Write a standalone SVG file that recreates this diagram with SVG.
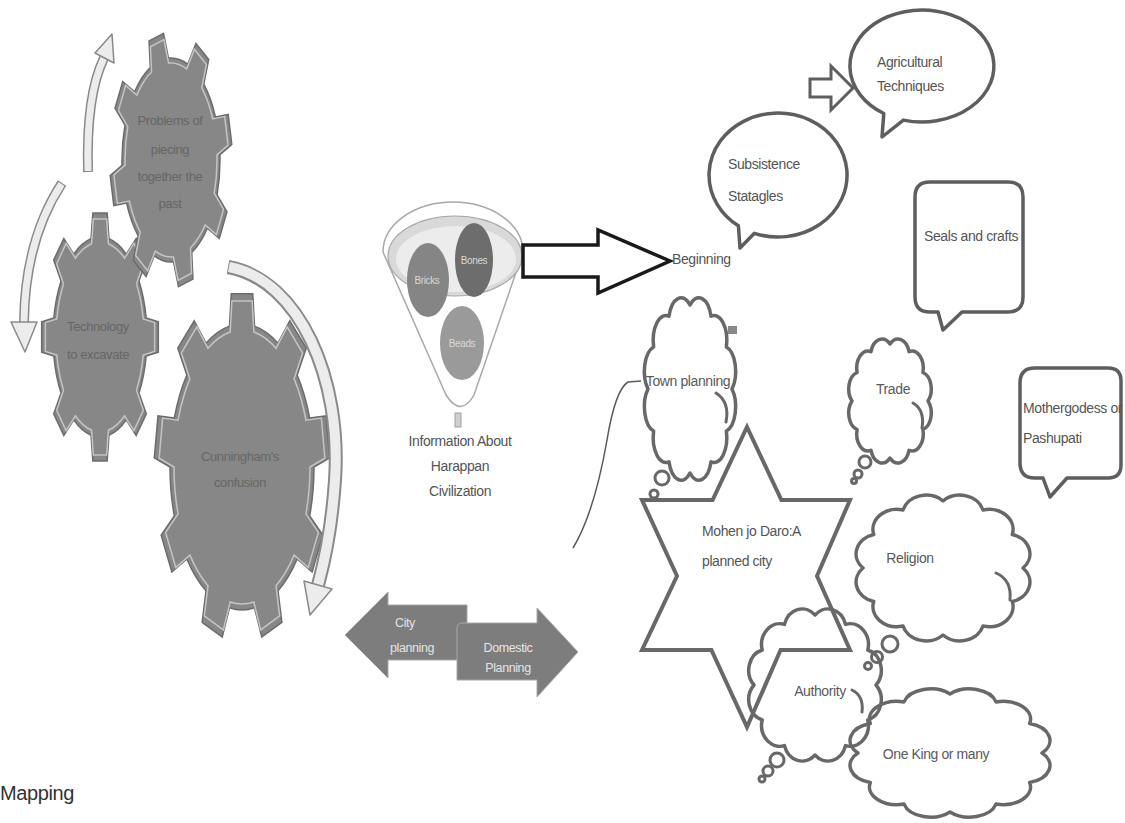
<svg xmlns="http://www.w3.org/2000/svg" width="1125" height="823" viewBox="0 0 1125 823">
<style>
text{font-family:"Liberation Sans",Arial,sans-serif;letter-spacing:-0.4px;}
.gear{fill:#878787;stroke:#6c6c6c;stroke-width:1.5;}
.gearhl{fill:none;stroke:#c4c4c4;stroke-width:1.5;}
.gt{font-size:13px;fill:#666;text-anchor:middle;}
.band-o{fill:none;stroke:#8a8a8a;stroke-linecap:butt;}
.band-i{fill:none;stroke:#ececec;stroke-linecap:butt;}
.head{fill:#ececec;stroke:#8a8a8a;stroke-width:1.5;stroke-linejoin:round;}
.bub{fill:#fff;stroke:#5e5e5e;stroke-width:3.5;stroke-linejoin:round;}
.cloud{fill:none;stroke:#686868;stroke-width:3.5;stroke-linejoin:round;}
.curl{fill:none;stroke:#686868;stroke-width:3;stroke-linecap:round;}
.dot{fill:#fff;stroke:#686868;stroke-width:3;}
.lbl{font-size:14px;fill:#555;}
.lblc{font-size:14px;fill:#5a5a5a;text-anchor:middle;}
.fc{font-size:10px;fill:#d8d8d8;text-anchor:middle;}
.dbl{fill:#7d7d7d;stroke:#a8a8a8;stroke-width:1;}
.dt{font-size:12.5px;fill:#e4e4e4;text-anchor:middle;}
</style>
<rect width="1125" height="823" fill="#fff"/>

<!-- gears -->
<g id="gear-technology">
<path class="gear" vector-effect="non-scaling-stroke" transform="translate(100,337) scale(47,100)" d="M -0.191,-0.982 L -0.152,-1.241 L 0.152,-1.241 L 0.191,-0.982 A 1 1 0 0 1 0.559,-0.829 L .770,-.985 L .985,-.770 L .829,-.559 A 1 1 0 0 1 .982,-.191 L 1.241,-.152 L 1.241,.152 L .982,.191 A 1 1 0 0 1 .829,.559 L .985,.770 L .770,.985 L .559,.829 A 1 1 0 0 1 .191,.982 L .152,1.241 L -.152,1.241 L -.191,.982 A 1 1 0 0 1 -.559,.829 L -.770,.985 L -.985,.770 L -.829,.559 A 1 1 0 0 1 -.982,.191 L -1.241,.152 L -1.241,-.152 L -.982,-.191 A 1 1 0 0 1 -.829,-.559 L -.985,-.770 L -.770,-.985 L -.559,-.829 A 1 1 0 0 1 -0.191,-0.982 Z"/>
<path class="gearhl" vector-effect="non-scaling-stroke" transform="translate(100,337) scale(44,95)" d="M -0.191,-0.982 L -0.152,-1.241 L 0.152,-1.241 L 0.191,-0.982 A 1 1 0 0 1 0.559,-0.829 L .770,-.985 L .985,-.770 L .829,-.559 A 1 1 0 0 1 .982,-.191 L 1.241,-.152 L 1.241,.152 L .982,.191 A 1 1 0 0 1 .829,.559 L .985,.770 L .770,.985 L .559,.829 A 1 1 0 0 1 .191,.982 L .152,1.241 L -.152,1.241 L -.191,.982 A 1 1 0 0 1 -.559,.829 L -.770,.985 L -.985,.770 L -.829,.559 A 1 1 0 0 1 -.982,.191 L -1.241,.152 L -1.241,-.152 L -.982,-.191 A 1 1 0 0 1 -.829,-.559 L -.985,-.770 L -.770,-.985 L -.559,-.829 A 1 1 0 0 1 -0.191,-0.982 Z"/>
<text class="gt" x="98" y="331">Technology</text>
<text class="gt" x="98" y="359">to excavate</text>
</g>
<g id="gear-cunningham">
<path class="gear" vector-effect="non-scaling-stroke" transform="translate(242,467) scale(72,143)" d="M -.174,-.985 L -.149,-1.211 L .149,-1.211 L .174,-.985 A 1 1 0 0 1 .5,-.866 L .664,-1.023 L .892,-.832 L .766,-.643 A 1 1 0 0 1 .940,-.342 L 1.167,-.357 L 1.218,-.064 L 1,0 A 1 1 0 0 1 .940,.342 L 1.123,.477 L .974,.734 L .766,.643 A 1 1 0 0 1 .5,.866 L .554,1.087 L .2745,1.189 L .174,.985 A 1 1 0 0 1 -.174,.985 L -.2745,1.189 L -.554,1.087 L -.5,.866 A 1 1 0 0 1 -.766,.643 L -.974,.734 L -1.123,.477 L -.940,.342 A 1 1 0 0 1 -1,0 L -1.218,-.064 L -1.167,-.357 L -.940,-.342 A 1 1 0 0 1 -.766,-.643 L -.892,-.832 L -.664,-1.023 L -.5,-.866 A 1 1 0 0 1 -.174,-.985 Z"/>
<path class="gearhl" vector-effect="non-scaling-stroke" transform="translate(242,467) scale(68,137)" d="M -.174,-.985 L -.149,-1.211 L .149,-1.211 L .174,-.985 A 1 1 0 0 1 .5,-.866 L .664,-1.023 L .892,-.832 L .766,-.643 A 1 1 0 0 1 .940,-.342 L 1.167,-.357 L 1.218,-.064 L 1,0 A 1 1 0 0 1 .940,.342 L 1.123,.477 L .974,.734 L .766,.643 A 1 1 0 0 1 .5,.866 L .554,1.087 L .2745,1.189 L .174,.985 A 1 1 0 0 1 -.174,.985 L -.2745,1.189 L -.554,1.087 L -.5,.866 A 1 1 0 0 1 -.766,.643 L -.974,.734 L -1.123,.477 L -.940,.342 A 1 1 0 0 1 -1,0 L -1.218,-.064 L -1.167,-.357 L -.940,-.342 A 1 1 0 0 1 -.766,-.643 L -.892,-.832 L -.664,-1.023 L -.5,-.866 A 1 1 0 0 1 -.174,-.985 Z"/>
<text class="gt" x="240" y="461">Cunningham's</text>
<text class="gt" x="240" y="487">confusion</text>
</g>
<g id="gear-problems">
<path class="gear" vector-effect="non-scaling-stroke" transform="translate(171,160) scale(49,102) rotate(-14)" d="M -0.191,-0.982 L -0.152,-1.241 L 0.152,-1.241 L 0.191,-0.982 A 1 1 0 0 1 0.559,-0.829 L .770,-.985 L .985,-.770 L .829,-.559 A 1 1 0 0 1 .982,-.191 L 1.241,-.152 L 1.241,.152 L .982,.191 A 1 1 0 0 1 .829,.559 L .985,.770 L .770,.985 L .559,.829 A 1 1 0 0 1 .191,.982 L .152,1.241 L -.152,1.241 L -.191,.982 A 1 1 0 0 1 -.559,.829 L -.770,.985 L -.985,.770 L -.829,.559 A 1 1 0 0 1 -.982,.191 L -1.241,.152 L -1.241,-.152 L -.982,-.191 A 1 1 0 0 1 -.829,-.559 L -.985,-.770 L -.770,-.985 L -.559,-.829 A 1 1 0 0 1 -0.191,-0.982 Z"/>
<path class="gearhl" vector-effect="non-scaling-stroke" transform="translate(171,160) scale(46,97) rotate(-14)" d="M -0.191,-0.982 L -0.152,-1.241 L 0.152,-1.241 L 0.191,-0.982 A 1 1 0 0 1 0.559,-0.829 L .770,-.985 L .985,-.770 L .829,-.559 A 1 1 0 0 1 .982,-.191 L 1.241,-.152 L 1.241,.152 L .982,.191 A 1 1 0 0 1 .829,.559 L .985,.770 L .770,.985 L .559,.829 A 1 1 0 0 1 .191,.982 L .152,1.241 L -.152,1.241 L -.191,.982 A 1 1 0 0 1 -.559,.829 L -.770,.985 L -.985,.770 L -.829,.559 A 1 1 0 0 1 -.982,.191 L -1.241,.152 L -1.241,-.152 L -.982,-.191 A 1 1 0 0 1 -.829,-.559 L -.985,-.770 L -.770,-.985 L -.559,-.829 A 1 1 0 0 1 -0.191,-0.982 Z"/>
<text class="gt" x="170" y="125">Problems of</text>
<text class="gt" x="170" y="154">piecing</text>
<text class="gt" x="170" y="181">together the</text>
<text class="gt" x="170" y="208">past</text>
</g>

<!-- cycle arrows -->
<g id="cycle-arrows">
<path class="band-o" stroke-width="10" d="M 88,172 Q 86,95 104,58"/>
<path class="band-i" stroke-width="7" d="M 88,171 Q 86,95 104,58"/>
<path class="head" d="M 95,53 L 112,34 L 114,63 Z"/>
<path class="band-o" stroke-width="10" d="M 62,183 Q 25,240 24,322"/>
<path class="band-i" stroke-width="7" d="M 61.5,184 Q 25,240 24,322"/>
<path class="head" d="M 11,322 L 37,322 L 25,352 Z"/>
<path class="band-o" stroke-width="14" d="M 228,267 C 300,280 342,380 335,480 C 331,540 322,570 318,585"/>
<path class="band-i" stroke-width="10" d="M 229,267 C 300,280 342,380 335,480 C 331,540 322,570 318,585"/>
<path class="head" d="M 304,581 L 332,589 L 310,615 Z"/>
</g>

<!-- funnel -->
<g id="funnel">
<path d="M 383,252 A 70 50 0 0 1 523,252 L 474,395 Q 461,418 446,395 Z" fill="#fff" stroke="#a8a8a8" stroke-width="1.5"/>
<ellipse cx="455" cy="256" rx="67" ry="40" fill="#d9d9d9" stroke="#a8a8a8" stroke-width="1.2"/>
<ellipse cx="456" cy="259" rx="60" ry="33" fill="#ececec" stroke="none"/>
<rect x="455" y="413" width="6" height="14" fill="#cfcfcf" stroke="#a0a0a0" stroke-width="1"/>
<ellipse cx="428" cy="280" rx="21" ry="37" fill="#858585"/>
<ellipse cx="474" cy="260" rx="19" ry="37" fill="#6d6d6d"/>
<ellipse cx="462" cy="343" rx="22" ry="37" fill="#9a9a9a"/>
<text class="fc" x="474" y="264">Bones</text>
<text class="fc" x="427" y="284">Bricks</text>
<text class="fc" x="462" y="347">Beads</text>
<text x="460" y="446" font-size="14" fill="#555" text-anchor="middle">Information About</text>
<text x="460" y="471" font-size="14" fill="#555" text-anchor="middle">Harappan</text>
<text x="460" y="496" font-size="14" fill="#555" text-anchor="middle">Civilization</text>
</g>

<!-- planning double arrow -->
<g id="city-planning">
<path class="dbl" d="M 345,635 L 388,592 L 388,605 L 467,605 L 467,660 L 388,660 L 388,678 Z"/>
<text class="dt" x="405" y="627">City</text>
<text class="dt" x="412" y="652">planning</text>
</g>
<g id="domestic-planning">
<path class="dbl" d="M 462,623 L 537,623 L 537,608 L 578,652 L 537,697 L 537,680 L 457,680 L 457,628 Q 457,623 462,623 Z"/>
<text class="dt" x="508" y="652">Domestic</text>
<text class="dt" x="508" y="672">Planning</text>
</g>

<!-- connectors -->
<g id="connectors">
<path d="M 523,245 L 598,245 L 598,230 L 670,261 L 598,293 L 598,277 L 523,277 Z" fill="#fff" stroke="#1a1a1a" stroke-width="3.5" stroke-linejoin="miter"/>
<path d="M 810,79 L 831,79 L 831,66 L 853,88 L 831,110 L 831,97 L 810,97 Z" fill="#fff" stroke="#5e5e5e" stroke-width="3"/>
<path d="M 641,381 L 628,382 C 618,388 612,410 607,440 C 600,480 590,520 573,548" fill="none" stroke="#5a5a5a" stroke-width="1.5"/>
</g>

<g id="beginning">
<text class="lbl" x="672" y="264">Beginning</text>
</g>

<!-- speech bubbles -->
<g id="agricultural">
<path class="bub" d="M 903.4,120.1 A 72 56 0 1 0 883.8,113.5 L 882,137 Z"/>
<text class="lbl" x="877" y="67">Agricultural</text>
<text class="lbl" x="877" y="91">Techniques</text>
</g>
<g id="subsistence">
<path class="bub" d="M 754.4,233.3 A 69 62 0 1 0 738.4,225.8 L 740,248 Z"/>
<text class="lbl" x="728" y="169">Subsistence</text>
<text class="lbl" x="728" y="201">Statagles</text>
</g>
<g id="seals">
<path class="bub" d="M 930,182 L 1008,182 Q 1023,182 1023,197 L 1023,297 Q 1023,312 1008,312 L 962,312 L 943,330 L 938,312 L 930,312 Q 915,312 915,297 L 915,197 Q 915,182 930,182 Z"/>
<text class="lbl" x="924" y="241">Seals and crafts</text>
</g>
<g id="mothergodess">
<path class="bub" d="M 1035,368 L 1108,368 Q 1121,368 1121,381 L 1121,465 Q 1121,478 1108,478 L 1067,478 L 1050,497 L 1043,478 L 1035,478 Q 1020,478 1020,463 L 1020,383 Q 1020,368 1035,368 Z"/>
<text class="lbl" x="1023" y="413" font-size="12.5">Mothergodess or</text>
<text class="lbl" x="1023" y="443">Pashupati</text>
</g>

<!-- star -->
<g id="mohenjodaro">
<path d="M 747,427 L 781.4,500 L 850,500 L 817,576 L 850,650 L 780.6,650 L 747,727 L 711.4,650 L 642,650 L 677,576 L 642,500 L 712.6,500 Z" fill="none" stroke="#686868" stroke-width="4" stroke-linejoin="miter"/>
<text class="lbl" x="702" y="536" fill="#666">Mohen jo Daro:A</text>
<text class="lbl" x="702" y="566" fill="#666">planned city</text>
</g>

<!-- clouds -->
<g id="town-planning">
<path class="cloud" vector-effect="non-scaling-stroke" transform="translate(690,389) scale(42,84)" d="M 0,-1 A .3 .3 0 0 1 .5,-.866 A .3 .3 0 0 1 .866,-.5 A .3 .3 0 0 1 1,0 A .3 .3 0 0 1 .866,.5 A .3 .3 0 0 1 .5,.866 A .3 .3 0 0 1 0,1 A .3 .3 0 0 1 -.5,.866 A .3 .3 0 0 1 -.866,.5 A .3 .3 0 0 1 -1,0 A .3 .3 0 0 1 -.866,-.5 A .3 .3 0 0 1 -.5,-.866 A .3 .3 0 0 1 0,-1 Z"/>
<path class="curl" d="M 716,393 Q 730,402 726,422"/>
<path d="M 728,326 L 737,326 L 737,334 L 728,334" fill="#888" stroke="none"/>
<circle class="dot" cx="662" cy="478" r="7"/>
<circle class="dot" cx="654" cy="494" r="4"/>
<text class="lblc" x="688" y="386">Town planning</text>
</g>
<g id="trade">
<path class="cloud" vector-effect="non-scaling-stroke" transform="translate(890,401) scale(38,57)" d="M 0,-1 A .3 .3 0 0 1 .5,-.866 A .3 .3 0 0 1 .866,-.5 A .3 .3 0 0 1 1,0 A .3 .3 0 0 1 .866,.5 A .3 .3 0 0 1 .5,.866 A .3 .3 0 0 1 0,1 A .3 .3 0 0 1 -.5,.866 A .3 .3 0 0 1 -.866,.5 A .3 .3 0 0 1 -1,0 A .3 .3 0 0 1 -.866,-.5 A .3 .3 0 0 1 -.5,-.866 A .3 .3 0 0 1 0,-1 Z"/>
<path class="curl" d="M 913,403 Q 925,410 922,428"/>
<circle class="dot" cx="865" cy="462" r="6"/>
<circle class="dot" cx="858" cy="474" r="4"/>
<circle class="dot" cx="854" cy="481" r="2.5"/>
<text class="lblc" x="893" y="394">Trade</text>
</g>
<g id="religion">
<path class="cloud" vector-effect="non-scaling-stroke" transform="translate(943,568) scale(80,67)" d="M 0,-1 A .3 .3 0 0 1 .5,-.866 A .3 .3 0 0 1 .866,-.5 A .3 .3 0 0 1 1,0 A .3 .3 0 0 1 .866,.5 A .3 .3 0 0 1 .5,.866 A .3 .3 0 0 1 0,1 A .3 .3 0 0 1 -.5,.866 A .3 .3 0 0 1 -.866,.5 A .3 .3 0 0 1 -1,0 A .3 .3 0 0 1 -.866,-.5 A .3 .3 0 0 1 -.5,-.866 A .3 .3 0 0 1 0,-1 Z"/>
<path class="curl" d="M 996,573 Q 1012,580 1010,600"/>
<circle class="dot" cx="890" cy="644" r="8"/>
<circle class="dot" cx="877" cy="657" r="5.5"/>
<circle class="dot" cx="868" cy="666" r="3.5"/>
<text class="lblc" x="910" y="563">Religion</text>
</g>
<g id="authority">
<path class="cloud" vector-effect="non-scaling-stroke" transform="translate(815,685) scale(61,70)" d="M 0,-1 A .3 .3 0 0 1 .5,-.866 A .3 .3 0 0 1 .866,-.5 A .3 .3 0 0 1 1,0 A .3 .3 0 0 1 .866,.5 A .3 .3 0 0 1 .5,.866 A .3 .3 0 0 1 0,1 A .3 .3 0 0 1 -.5,.866 A .3 .3 0 0 1 -.866,.5 A .3 .3 0 0 1 -1,0 A .3 .3 0 0 1 -.866,-.5 A .3 .3 0 0 1 -.5,-.866 A .3 .3 0 0 1 0,-1 Z"/>
<path class="curl" d="M 852,690 Q 864,696 862,712"/>
<circle class="dot" cx="777" cy="760" r="7"/>
<circle class="dot" cx="768" cy="771" r="5"/>
<circle class="dot" cx="762" cy="779" r="3"/>
<text class="lblc" x="820" y="696">Authority</text>
</g>
<g id="one-king">
<path class="cloud" vector-effect="non-scaling-stroke" transform="translate(950,753) scale(92,59)" d="M 0,-1 A .3 .3 0 0 1 .5,-.866 A .3 .3 0 0 1 .866,-.5 A .3 .3 0 0 1 1,0 A .3 .3 0 0 1 .866,.5 A .3 .3 0 0 1 .5,.866 A .3 .3 0 0 1 0,1 A .3 .3 0 0 1 -.5,.866 A .3 .3 0 0 1 -.866,.5 A .3 .3 0 0 1 -1,0 A .3 .3 0 0 1 -.866,-.5 A .3 .3 0 0 1 -.5,-.866 A .3 .3 0 0 1 0,-1 Z"/>
<text class="lblc" x="936" y="759">One King or many</text>
</g>

<g id="title">
<text x="0" y="800" font-size="20" fill="#333">Mapping</text>
</g>
</svg>
